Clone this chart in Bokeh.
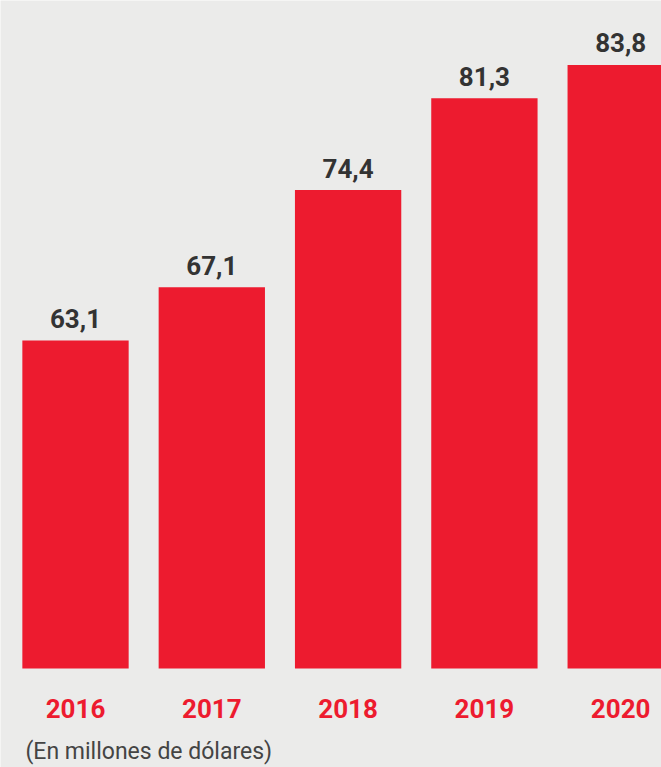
from bokeh.plotting import figure
from bokeh.models import ColumnDataSource, Range1d, Label
from bokeh.embed import file_html
from bokeh.resources import INLINE
from bokeh.core.properties import value

# Data
years = ["2016", "2017", "2018", "2019", "2020"]
values = [63.1, 67.1, 74.4, 81.3, 83.8]
value_labels = ["63,1", "67,1", "74,4", "81,3", "83,8"]
caption = "(En millones de dólares)"

BG = "#ebebea"
RED = "#ed1b2f"
DARK = "#333333"
BASE = 38.45

src = ColumnDataSource(dict(
    x=list(range(len(years))),
    top=values,
    bottom=[BASE] * len(values),
    lbl=value_labels,
    year=years,
))

p = figure(width=661, height=767, output_backend="svg", toolbar_location=None,
           x_range=Range1d(-0.5503, 4.2993), y_range=Range1d(31.01, 88.64),
           min_border=0, background_fill_color=BG, border_fill_color=BG,
           outline_line_color=None)
p.axis.visible = False
p.grid.visible = False

p.vbar(x="x", top="top", bottom="bottom", width=0.78, source=src,
       fill_color=RED, line_color=None)

p.text(x="x", y="top", text="lbl", source=src, text_align="center",
       text_baseline="alphabetic", y_offset=-22,
       text_font=value("Roboto"), text_font_style="bold",
       text_font_size="26px", text_color=DARK)

p.text(x="x", y="bottom", text="year", source=src, text_align="center",
       text_baseline="alphabetic", y_offset=40,
       text_font=value("Roboto"), text_font_style="bold",
       text_font_size="26px", text_color=RED)

p.add_layout(Label(x=25, y=16, x_units="screen", y_units="screen",
                   text=caption, text_font="Roboto", text_font_size="23px",
                   text_color="#444444", text_baseline="alphabetic"))

html = file_html(p, INLINE)
html = html.replace("<body>", '<body style="background:%s;">' % BG, 1)
open("out.html", "w").write(html)
